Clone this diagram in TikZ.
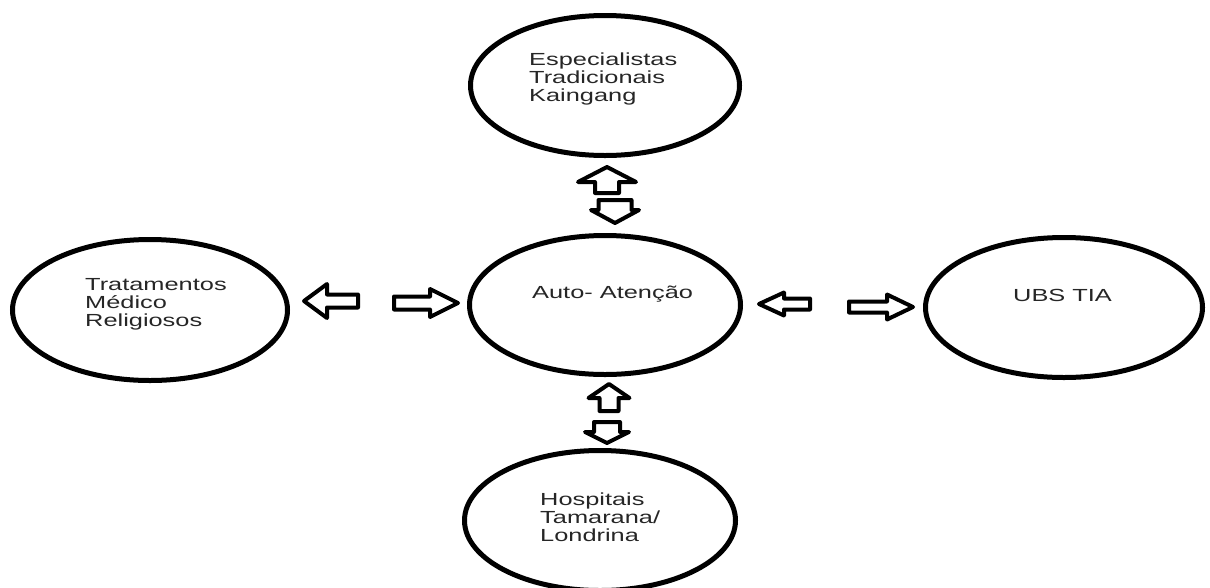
\documentclass[tikz,border=0pt]{standalone}
\usepackage{fontspec}
\setmainfont{Liberation Sans}[FakeStretch=1.45]
\usetikzlibrary{shapes.geometric}
\begin{document}
\begin{tikzpicture}[x=1pt,y=-1pt,
  bubble/.style={draw, line width=5pt, ellipse, inner sep=0pt},
  lbl/.style={anchor=base west, inner sep=0pt, text=black!85, font=\fontsize{17.5}{18}\selectfont},
  arrowline/.style={draw, line width=4pt, line join=round, fill=white},
  pics/barrow/.style n args={4}{code={
    \draw[arrowline] (0,#4) -- ({#1-#2},#4) -- ({#1-#2},#3) -- (#1,0)
      -- ({#1-#2},-#3) -- ({#1-#2},-#4) -- (0,-#4) -- cycle;}}]
\fill[white] (0,0) rectangle (1210,587);
\useasboundingbox (0,0) rectangle (1210,587);

% bubbles
\node[bubble, minimum width=269pt, minimum height=140pt] (spec) at (605,85.5) {};
\node[bubble, minimum width=271pt, minimum height=139pt] (auto) at (605,305) {};
\node[bubble, minimum width=275pt, minimum height=141pt] (trat) at (150,310) {};
\node[bubble, minimum width=277pt, minimum height=140pt] (ubs) at (1064,307.5) {};
\node[bubble, minimum width=271pt, minimum height=140pt] (hosp) at (600,520.5) {};

% texts
\node[lbl] (tspec) at (529,65) {\begin{tabular}[t]{@{}l@{}}Especialistas\\Tradicionais\\Kaingang\end{tabular}};
\node[lbl] (ttrat) at (85,290) {\begin{tabular}[t]{@{}l@{}}Tratamentos\\Médico\\Religiosos\end{tabular}};
\node[lbl] (tauto) at (532,298) {Auto- Atenção};
\node[lbl] (tubs) at (1013,301) {UBS TIA};
\node[lbl] (thosp) at (540,505) {\begin{tabular}[t]{@{}l@{}}Hospitais\\Tamarana/\\Londrina\end{tabular}};

% block arrows
\pic[rotate=180] (a1) at (358,301) {barrow={54}{23}{17}{6.5}};
\pic (a2) at (394,303) {barrow={64}{28}{14}{6.5}};
\pic[rotate=180] (a3) at (810,304) {barrow={51}{25}{11.5}{5.5}};
\pic (a4) at (849,307) {barrow={64}{26}{12.5}{5.5}};
\pic[rotate=90] (a5) at (607,193) {barrow={26}{15}{29}{12}};
\pic[rotate=-90] (a6) at (615,200) {barrow={23}{13}{24}{16.5}};
\pic[rotate=90] (a7) at (609,411) {barrow={27}{14}{20.5}{9.5}};
\pic[rotate=-90] (a8) at (607,422) {barrow={21}{11}{22}{13}};
\end{tikzpicture}
\end{document}
